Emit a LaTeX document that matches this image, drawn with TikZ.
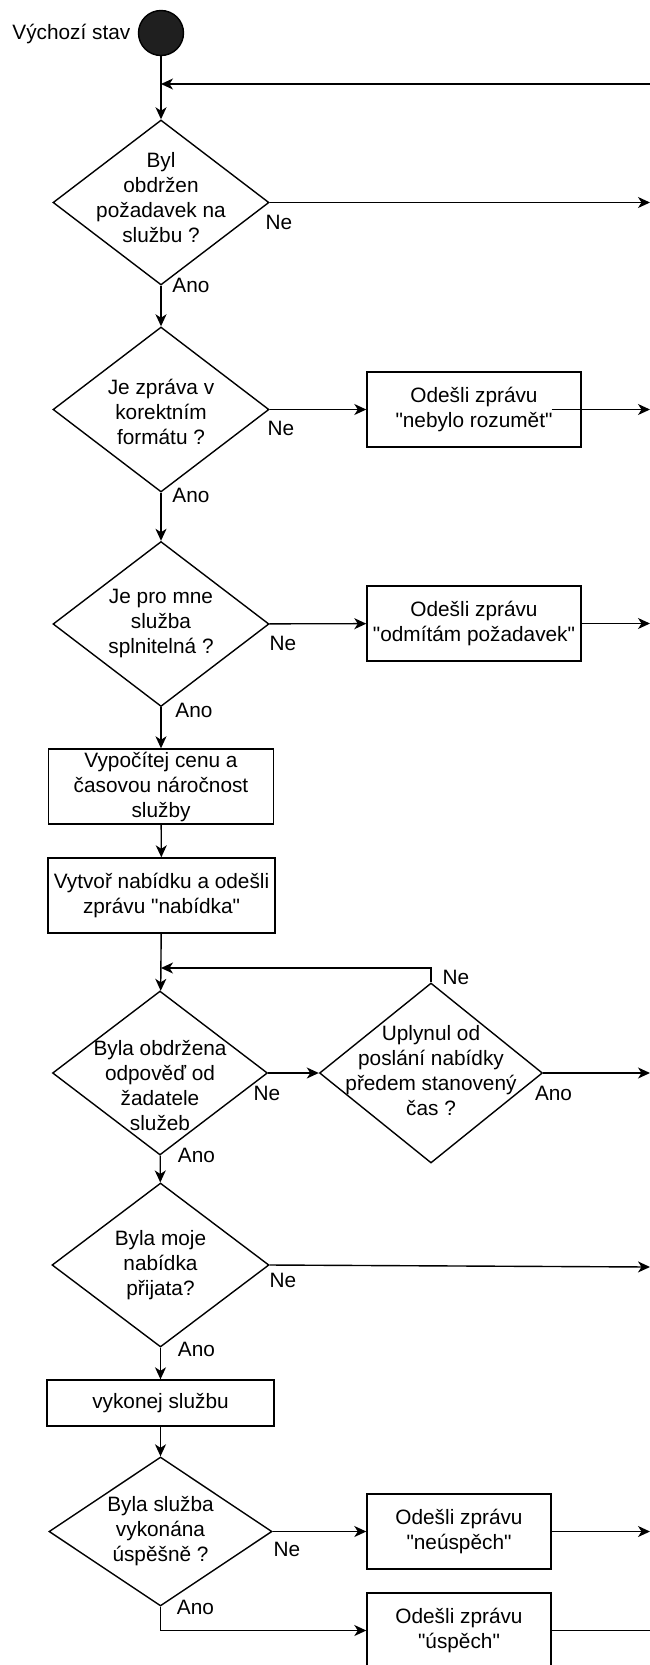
\documentclass[tikz,border=0pt]{standalone}
\usepackage{fontspec}
\setmainfont{Liberation Sans}
\usetikzlibrary{shapes.geometric,arrows.meta}
\begin{document}
\begin{tikzpicture}[x=1pt,y=1pt,line width=1.4pt,font=\fontsize{20.8}{25}\selectfont]
\tikzstyle{every node}+=[inner sep=0pt]
\tikzstyle{decision}=[diamond,draw]
\tikzstyle{process}=[rectangle,draw,align=center,minimum height=75pt]
\tikzstyle{qtext}=[align=center]
\tikzstyle{arr}=[-{Stealth[length=12pt,width=11pt,inset=3.5pt]}]
\useasboundingbox (0,0) rectangle (650,-1665);
\node[circle,draw,fill=black!88,minimum size=45pt] (start) at (161,-33) {};
\node[anchor=base east] (startlbl) at (131,-39.5) {Výchozí stav};
\node[decision,minimum width=216pt,minimum height=165pt,label={[qtext,yshift=5pt]center:Byl\\obdržen\\požadavek na\\službu ?}] (q1) at (161,-202.5) {};
\node[decision,minimum width=216pt,minimum height=165pt,label={[qtext,yshift=-2.5pt]center:Je zpráva v\\korektním\\formátu ?}] (q2) at (161,-409.5) {};
\node[decision,minimum width=216pt,minimum height=165pt,label={[qtext,yshift=1pt]center:Je pro mne\\služba\\splnitelná ?}] (q3) at (161,-624) {};
\node[process,minimum width=214pt] (m1) at (474,-409.5) {Odešli zprávu\\\textquotedbl nebylo rozumět\textquotedbl};
\node[process,minimum width=214pt] (m2) at (474,-623.5) {Odešli zprávu\\\textquotedbl odmítám požadavek\textquotedbl};
\node[process,minimum width=225pt] (m3) at (161,-786.5) {Vypočítej cenu a\\časovou náročnost\\služby};
\node[process,minimum width=227pt] (m4) at (161.5,-895.5) {Vytvoř nabídku a odešli\\zprávu \textquotedbl nabídka\textquotedbl};
\node[decision,minimum width=215pt,minimum height=164pt,label={[qtext,yshift=-12.5pt]center:Byla obdržena\\odpověď od\\žadatele\\služeb}] (q4) at (160,-1073) {};
\node[decision,minimum width=223pt,minimum height=180pt,label={[qtext,yshift=2.5pt]center:Uplynul od\\poslání nabídky\\předem stanovený\\čas ?}] (q5) at (431,-1073) {};
\node[decision,minimum width=217pt,minimum height=164pt,label={[qtext]center:Byla moje\\nabídka\\přijata?}] (q6) at (160.5,-1265) {};
\node[process,minimum width=227pt,minimum height=46pt] (m5) at (160.5,-1403) {vykonej službu};
\node[decision,minimum width=223pt,minimum height=149pt,label={[qtext]center:Byla služba\\vykonána\\úspěšně ?}] (q7) at (160.5,-1531.5) {};
\node[process,minimum width=184pt] (m6) at (459,-1531.5) {Odešli zprávu\\\textquotedbl neúspěch\textquotedbl};
\node[process,minimum width=184pt] (m7) at (459,-1630.5) {Odešli zprávu\\\textquotedbl úspěch\textquotedbl};
\node (ne1) at (279,-222) {Ne};
\node (ano1) at (191,-285) {Ano};
\node (ne2) at (281,-428.5) {Ne};
\node (ano2) at (191,-495) {Ano};
\node (ne3) at (283,-643) {Ne};
\node (ano3) at (194,-710) {Ano};
\node (ne4) at (267,-1093) {Ne};
\node (ano4) at (196.5,-1155) {Ano};
\node (ne5) at (456,-977) {Ne};
\node (ano5) at (553.5,-1093) {Ano};
\node (ne6) at (283,-1280) {Ne};
\node (ano6) at (196.5,-1349) {Ano};
\node (ne7) at (287,-1549) {Ne};
\node (ano7) at (195.5,-1607) {Ano};
\coordinate (back) at (650,-84);
\coordinate (o1) at (650,-202.5);
\coordinate (o2) at (650,-409.5);
\coordinate (o3) at (650,-623.5);
\coordinate (o5) at (650,-1073);
\coordinate (o6) at (650,-1267);
\coordinate (o7) at (650,-1531.5);
\coordinate (o8) at (666,-1630.5);
\coordinate (j1) at (161,-968);
\draw[arr] (start) -- (q1);
\draw[arr] (back) -- (back -| start);
\draw[arr] (q1.east) -- (o1);
\draw[arr] (q1) -- (q2);
\draw[arr] (q2) -- (m1);
\draw[arr] ([xshift=-30pt]m1.east) -- (o2);
\draw[arr] (q2) -- (q3);
\draw[arr] (q3) -- (m2);
\draw[arr] (m2) -- (o3);
\draw[arr] (q3) -- (m3);
\draw[arr] (m3) -- (m4);
\draw[arr] (m4) -- (q4);
\draw[arr] (q4) -- (q5);
\draw[arr] (q5.north) |- (j1);
\draw[arr] (q5.east) -- (o5);
\draw[arr] (q4) -- (q6);
\draw[arr] (q6.east) -- (o6);
\draw[arr] (q6) -- (m5);
\draw[arr] (m5) -- (q7);
\draw[arr] (q7) -- (m6);
\draw[arr] (m6) -- (o7);
\draw[arr] (q7.south) |- (m7.west);
\draw[arr] (m7.east) -- (o8);
\end{tikzpicture}
\end{document}
